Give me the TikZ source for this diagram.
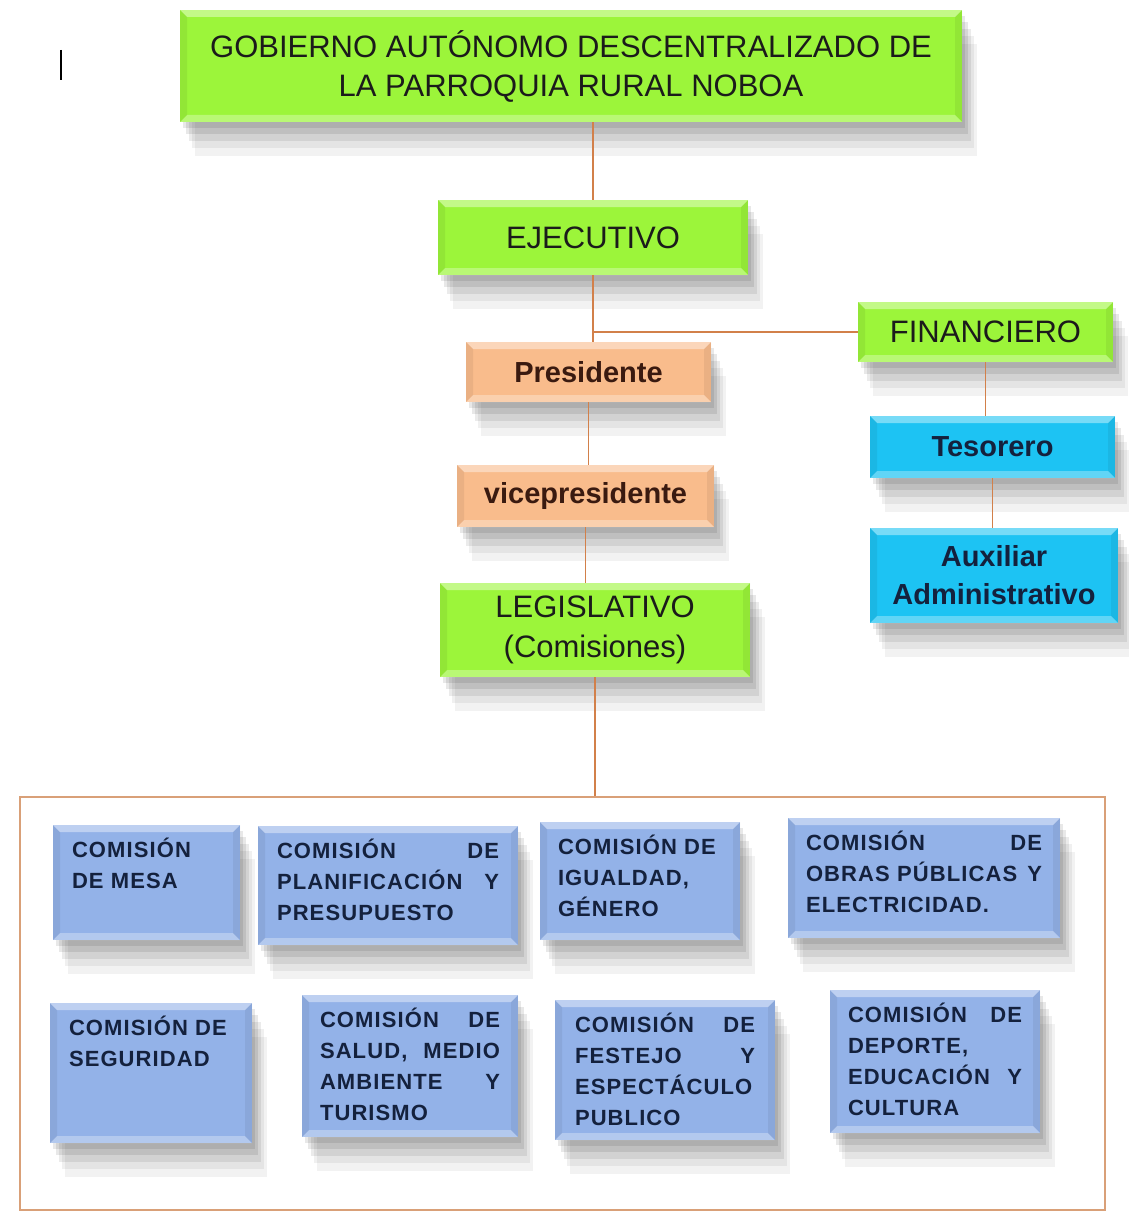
\documentclass[tikz,border=0pt]{standalone}
\usepackage{fontspec}
\setmainfont{Liberation Sans}
\newfontfamily\comfont[LetterSpace=5]{Liberation Sans}
\usepackage{tikz}
\usetikzlibrary{positioning,shadows,calc}
\definecolor{verde}{HTML}{9CF53A}
\definecolor{durazno}{HTML}{F9BC8C}
\definecolor{celeste}{HTML}{1DC3F3}
\definecolor{azulcom}{HTML}{93B2E8}
\definecolor{linea}{HTML}{D2804A}
\definecolor{marcoborde}{HTML}{D9A078}
\definecolor{textogris}{HTML}{1B1B1B}
\definecolor{textoazul}{HTML}{14213D}
\definecolor{textocafe}{HTML}{3A1A10}

% bisel de las cajas
\newcommand{\biselado}{%
  \coordinate (bnw) at (path picture bounding box.north west);
  \coordinate (bne) at (path picture bounding box.north east);
  \coordinate (bsw) at (path picture bounding box.south west);
  \coordinate (bse) at (path picture bounding box.south east);
  \fill[white, opacity=.40] (bnw) -- (bne) -- ([shift={(-7pt,-7pt)}]bne) -- ([shift={(7pt,-7pt)}]bnw) -- cycle;
  \fill[white, opacity=.30] (bsw) -- (bse) -- ([shift={(-7pt,7pt)}]bse) -- ([shift={(7pt,7pt)}]bsw) -- cycle;
  \fill[black, opacity=.06] (bnw) -- (bsw) -- ([shift={(7pt,7pt)}]bsw) -- ([shift={(7pt,-7pt)}]bnw) -- cycle;
  \fill[black, opacity=.06] (bne) -- (bse) -- ([shift={(-7pt,7pt)}]bse) -- ([shift={(-7pt,-7pt)}]bne) -- cycle;
}
% texto de comision, alineado arriba
\newcommand{\ctext}[3]{\parbox[c][\dimexpr #2pt-25pt\relax][t]{#1pt}{#3}}
\newcommand{\sep}{\nobreak\hfill}

\begin{document}
\begin{tikzpicture}[
  x=1pt, y=-1pt,
  caja/.style={inner sep=0pt, align=center, path picture=\biselado,
    drop shadow={shadow xshift=3pt, shadow yshift=-6pt, opacity=.09, fill=black},
    drop shadow={shadow xshift=6pt, shadow yshift=-12pt, opacity=.09, fill=black},
    drop shadow={shadow xshift=9pt, shadow yshift=-19pt, opacity=.08, fill=black},
    drop shadow={shadow xshift=12pt, shadow yshift=-26pt, opacity=.06, fill=black},
    drop shadow={shadow xshift=15pt, shadow yshift=-34pt, opacity=.05, fill=black}},
  nivel/.style={caja, fill=verde, text=textogris, font=\fontsize{31}{39}\selectfont},
  cargo/.style={caja, fill=durazno, text=textocafe, font=\bfseries\fontsize{29}{38}\selectfont},
  finanza/.style={caja, fill=celeste, text=textoazul, font=\bfseries\fontsize{29}{38}\selectfont},
  comision/.style={caja, fill=azulcom, text=textoazul, font=\comfont\bfseries\fontsize{22}{31}\selectfont},
  link/.style={draw=linea, line width=1.4pt},
  marco/.style={draw=marcoborde, line width=1.3pt, inner sep=0pt}
]
  \useasboundingbox (0,0) rectangle (1128,1212);

  % cursor suelto
  \draw[line width=1.6pt] (61,50) -- (61,80);

  % niveles
  \node[nivel, minimum width=782, minimum height=112] (titulo) at (571,66)
    {GOBIERNO AUTÓNOMO DESCENTRALIZADO DE\\LA PARROQUIA RURAL NOBOA};
  \node[nivel, minimum width=310, minimum height=75] (ejec) at (593,237.5) {EJECUTIVO};
  \node[nivel, minimum width=255, minimum height=60] (fin) at (985.5,332) {FINANCIERO};
  \node[cargo, minimum width=245, minimum height=60] (pres) at (588.5,372) {Presidente};
  \node[cargo, minimum width=257, minimum height=62] (vice) at (585.5,496) {vicepresidente};
  \node[finanza, minimum width=245, minimum height=62] (teso) at (992.5,447) {Tesorero};
  \node[finanza, minimum width=248, minimum height=95] (aux) at (994,575.5) {Auxiliar\\Administrativo};
  \node[nivel, minimum width=310, minimum height=94, font=\fontsize{31}{40}\selectfont] (legis) at (595,630)
    {LEGISLATIVO\\(Comisiones)};

  % conectores
  \draw[link] (titulo.south -| ejec.north) -- (ejec.north);
  \draw[link] (ejec.south) -- (pres.north -| ejec.south);
  \draw[link] (ejec.south |- fin.west) -- (fin.west);
  \draw[link] (pres.south) -- (vice.north -| pres.south);
  \draw[link] (vice.south) -- (legis.north -| vice.south);
  \draw[link] (fin.south) -- (teso.north -| fin.south);
  \draw[link] (teso.south) -- (aux.north -| teso.south);

  % marco de comisiones
  \node[marco, minimum width=1085, minimum height=413] (marco) at (562.5,1003.5) {};
  \draw[link] (legis.south) -- (marco.north -| legis.south);

  % comisiones, fila 1
  \node[comision, minimum width=187, minimum height=115] (mesa) at (146.5,882.5)
    {\ctext{149}{115}{COMISIÓN\\DE~MESA}};
  \node[comision, minimum width=260, minimum height=119] (plan) at (388,885.5)
    {\ctext{222}{119}{COMISIÓN\sep DE\\PLANIFICACIÓN\sep Y\\PRESUPUESTO}};
  \node[comision, minimum width=200, minimum height=118] (igual) at (640,881)
    {\ctext{164}{118}{COMISIÓN~DE\\IGUALDAD,\\GÉNERO}};
  \node[comision, minimum width=272, minimum height=120] (obras) at (924,878)
    {\ctext{236}{120}{COMISIÓN\sep DE\\OBRAS~PÚBLICAS\sep Y\\ELECTRICIDAD.}};

  % comisiones, fila 2
  \node[comision, minimum width=202, minimum height=140] (seg) at (151,1073)
    {\ctext{164}{140}{COMISIÓN~DE\\SEGURIDAD}};
  \node[comision, minimum width=216, minimum height=142] (salud) at (410,1066)
    {\ctext{180}{142}{COMISIÓN\sep DE\\SALUD,\sep MEDIO\\AMBIENTE\sep Y\\TURISMO}};
  \node[comision, minimum width=220, minimum height=140] (festejo) at (665,1070)
    {\ctext{180}{140}{COMISIÓN\sep DE\\FESTEJO\sep Y\\ESPECTÁCULO\\PUBLICO}};
  \node[comision, minimum width=210, minimum height=143] (deporte) at (935,1061.5)
    {\ctext{174}{143}{COMISIÓN\sep DE\\DEPORTE,\\EDUCACIÓN\sep Y\\CULTURA}};
\end{tikzpicture}
\end{document}
